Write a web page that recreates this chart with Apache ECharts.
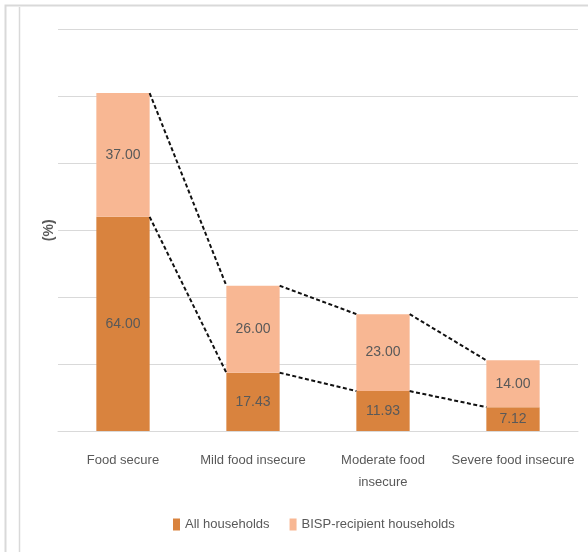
<!DOCTYPE html>
<html>
<head>
<meta charset="utf-8">
<script src="https://cdn.jsdelivr.net/npm/echarts@6/dist/echarts.min.js"></script>
<style>
  html, body { margin: 0; padding: 0; background: #fff; }
  #chart { width: 588px; height: 552px; }
</style>
</head>
<body>
<div id="chart"></div>
<script>
// Household food security status (%)
const categories = ['Food secure', 'Mild food insecure', 'Moderate food\ninsecure', 'Severe food insecure'];
const allHouseholds = [64.00, 17.43, 11.93, 7.12];
const bispHouseholds = [37.00, 26.00, 23.00, 14.00];
const seriesNames = ['All households', 'BISP-recipient households'];

const darkColor = '#D9833E';
const lightColor = '#F8B793';
const textColor = '#595959';
const font = '"Liberation Sans Narrow", "Liberation Sans", Arial, sans-serif';
const barRatio = 0.41;

const totals = allHouseholds.map((v, i) => v + bispHouseholds[i]);

// Dashed connectors between neighbouring bars: one at the top of the
// lower segment, one at the top of the stack.
const connectorData = [];
for (let i = 0; i < categories.length - 1; i++) {
  connectorData.push([i, allHouseholds[i], i + 1, allHouseholds[i + 1]]);
  connectorData.push([i, totals[i], i + 1, totals[i + 1]]);
}

const chart = echarts.init(document.getElementById('chart'), null, { renderer: 'canvas' });
chart.setOption({
  animation: false,
  textStyle: { fontFamily: font },
  graphic: [
    { type: 'polyline', shape: { points: [[5.5, 552], [5.5, 5.5], [588, 5.5]] },
      style: { stroke: '#d9d9d9', lineWidth: 2, fill: null }, silent: true },
    { type: 'line', shape: { x1: 19.5, y1: 7, x2: 19.5, y2: 552 },
      style: { stroke: '#d9d9d9', lineWidth: 1.5 }, silent: true }
  ],
  grid: { left: 58, right: 10, top: 29.5, bottom: 121 },
  legend: {
    data: seriesNames,
    bottom: 16,
    left: 168,
    itemWidth: 7,
    itemHeight: 12,
    itemGap: 20,
    icon: 'rect',
    textStyle: { color: textColor, fontSize: 13, fontFamily: font }
  },
  xAxis: {
    type: 'category',
    data: categories,
    axisLine: { lineStyle: { color: '#d9d9d9', width: 1 } },
    axisTick: { show: false },
    axisLabel: { color: textColor, fontSize: 13, margin: 18, lineHeight: 22, interval: 0, fontFamily: font }
  },
  yAxis: {
    type: 'value',
    min: 0,
    max: 120,
    interval: 20,
    name: '(%)',
    nameLocation: 'middle',
    nameGap: 2,
    nameRotate: 90,
    nameTextStyle: { color: textColor, fontSize: 14, fontWeight: 'bold', fontFamily: font },
    axisLine: { show: false },
    axisTick: { show: false },
    axisLabel: { show: false },
    splitLine: { lineStyle: { color: '#d9d9d9', width: 1 } }
  },
  series: [
    {
      name: seriesNames[0],
      type: 'bar',
      stack: 'hh',
      data: allHouseholds,
      barWidth: (barRatio * 100) + '%',
      itemStyle: { color: darkColor },
      label: { show: true, position: 'inside', color: textColor, fontSize: 14, fontFamily: font,
               formatter: p => p.value.toFixed(2) }
    },
    {
      name: seriesNames[1],
      type: 'bar',
      stack: 'hh',
      data: bispHouseholds,
      barWidth: (barRatio * 100) + '%',
      itemStyle: { color: lightColor },
      label: { show: true, position: 'inside', color: textColor, fontSize: 14, fontFamily: font,
               formatter: p => p.value.toFixed(2) }
    },
    {
      name: 'connectors',
      type: 'custom',
      data: connectorData,
      silent: true,
      z: 5,
      renderItem: function (params, api) {
        const a = api.coord([api.value(0), api.value(1)]);
        const b = api.coord([api.value(2), api.value(3)]);
        const half = api.size([1, 0])[0] * barRatio / 2;
        return {
          type: 'line',
          shape: { x1: a[0] + half, y1: a[1], x2: b[0] - half, y2: b[1] },
          style: { stroke: '#111', lineWidth: 2, lineDash: [4, 2.5] }
        };
      }
    }
  ]
});
</script>
</body>
</html>
